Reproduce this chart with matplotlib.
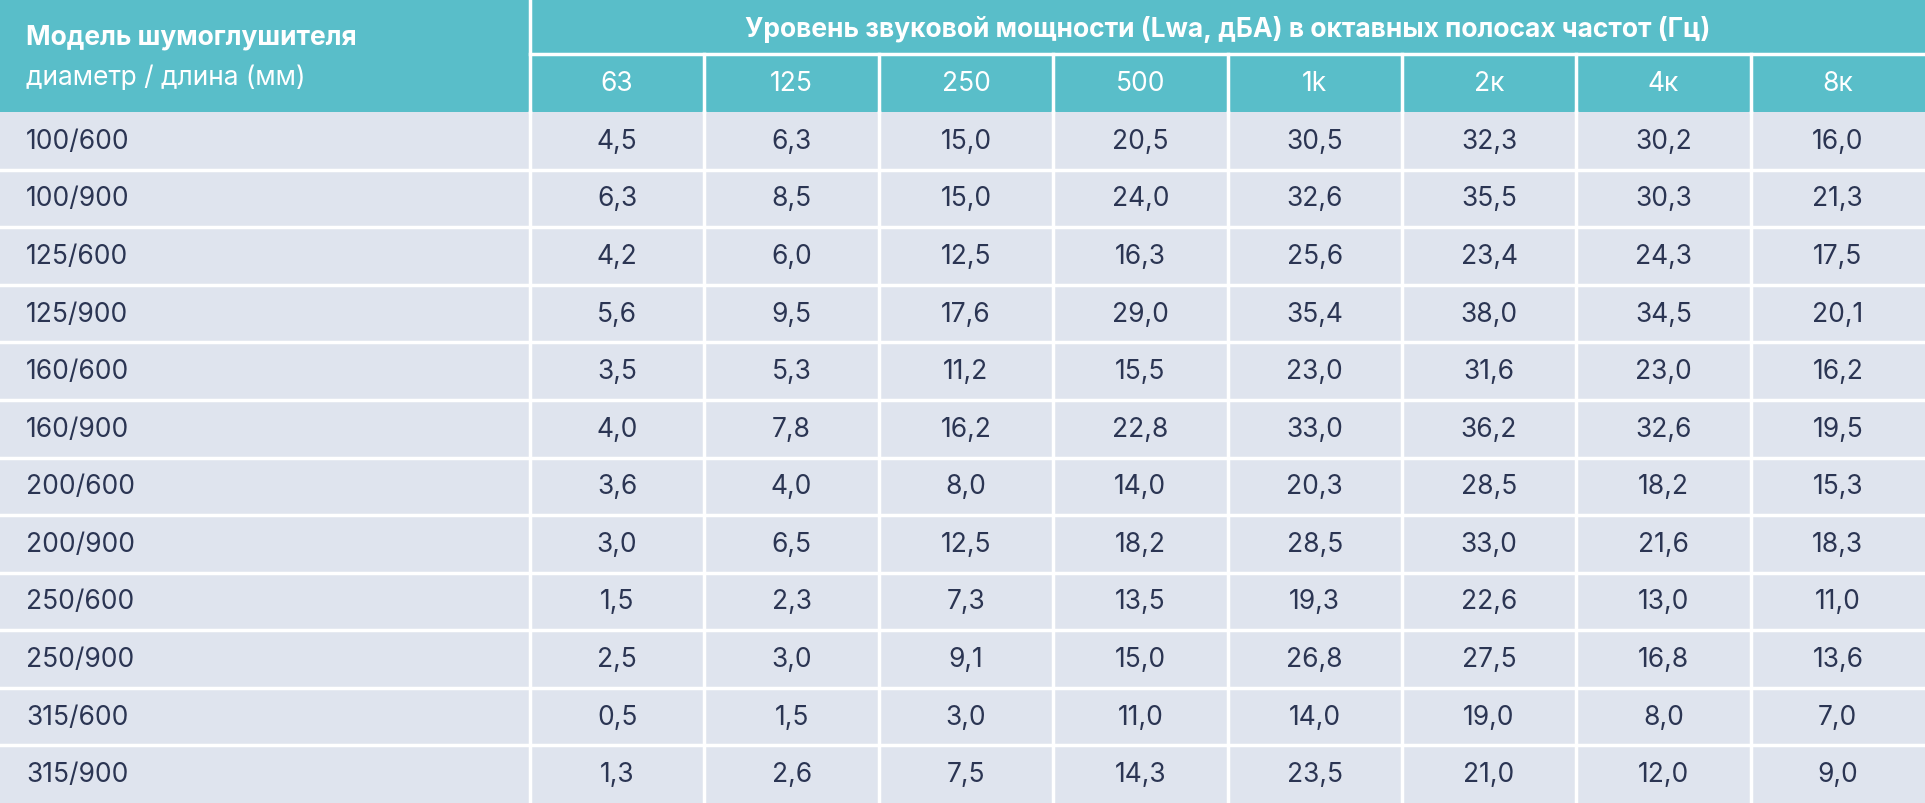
import matplotlib.pyplot as plt
from matplotlib.patches import Rectangle

plt.rcParams['font.family'] = ['Inter', 'DejaVu Sans']

models = ["100/600", "100/900", "125/600", "125/900", "160/600", "160/900",
          "200/600", "200/900", "250/600", "250/900", "315/600", "315/900"]
bands = ["63", "125", "250", "500", "1k", "2к", "4к", "8к"]
values = [
    ["4,5", "6,3", "15,0", "20,5", "30,5", "32,3", "30,2", "16,0"],
    ["6,3", "8,5", "15,0", "24,0", "32,6", "35,5", "30,3", "21,3"],
    ["4,2", "6,0", "12,5", "16,3", "25,6", "23,4", "24,3", "17,5"],
    ["5,6", "9,5", "17,6", "29,0", "35,4", "38,0", "34,5", "20,1"],
    ["3,5", "5,3", "11,2", "15,5", "23,0", "31,6", "23,0", "16,2"],
    ["4,0", "7,8", "16,2", "22,8", "33,0", "36,2", "32,6", "19,5"],
    ["3,6", "4,0", "8,0", "14,0", "20,3", "28,5", "18,2", "15,3"],
    ["3,0", "6,5", "12,5", "18,2", "28,5", "33,0", "21,6", "18,3"],
    ["1,5", "2,3", "7,3", "13,5", "19,3", "22,6", "13,0", "11,0"],
    ["2,5", "3,0", "9,1", "15,0", "26,8", "27,5", "16,8", "13,6"],
    ["0,5", "1,5", "3,0", "11,0", "14,0", "19,0", "8,0", "7,0"],
    ["1,3", "2,6", "7,5", "14,3", "23,5", "21,0", "12,0", "9,0"],
]
title_top = "Уровень звуковой мощности (Lwa, дБА) в октавных полосах частот (Гц)"
head_bold = "Модель шумоглушителя"
head_sub = "диаметр / длина (мм)"

W, H = 1925, 804
teal = "#59bec9"
body = "#dfe4ee"
ink = "#2b3553"
fs = 19

fig = plt.figure(figsize=(W / 100, H / 100), dpi=100)
ax = fig.add_axes([0, 0, 1, 1])
ax.set_xlim(0, W)
ax.set_ylim(H, 0)
ax.axis("off")

x0 = 530
cw = (W - x0) / len(bands)
h1, h2 = 55, 113
rh = (H - h2) / len(models)
lw = 2.5

# header
ax.add_patch(Rectangle((0, 0), W, h2, facecolor=teal, edgecolor="none"))
ax.plot([x0, x0], [0, h2], color="white", lw=lw)
ax.plot([x0, W], [h1, h1], color="white", lw=lw)
for j in range(1, len(bands)):
    ax.plot([x0 + j * cw] * 2, [h1, h2], color="white", lw=lw)
ax.text(x0 + (W - x0) / 2, h1 / 2 + 2, title_top, ha="center", va="center",
        color="white", fontsize=fs, fontweight="bold")
ax.text(26, 38, head_bold, ha="left", va="center", color="white",
        fontsize=fs, fontweight="bold")
ax.text(26, 78, head_sub, ha="left", va="center", color="white", fontsize=fs)
for j, b in enumerate(bands):
    ax.text(x0 + (j + 0.5) * cw, (h1 + h2) / 2, b, ha="center", va="center",
            color="white", fontsize=fs)

# body
ax.add_patch(Rectangle((0, h2), W, H - h2, facecolor=body, edgecolor="none"))
for i, m in enumerate(models):
    y = h2 + i * rh
    if i > 0:
        ax.plot([0, W], [y, y], color="white", lw=lw)
    ax.text(26, y + rh / 2, m, ha="left", va="center", color=ink, fontsize=fs)
    for j, v in enumerate(values[i]):
        ax.text(x0 + (j + 0.5) * cw, y + rh / 2, v, ha="center", va="center",
                color=ink, fontsize=fs)
for j in range(len(bands)):
    ax.plot([x0 + j * cw] * 2, [h2, H], color="white", lw=lw)

fig.savefig("out.png", dpi=100, facecolor="white")
